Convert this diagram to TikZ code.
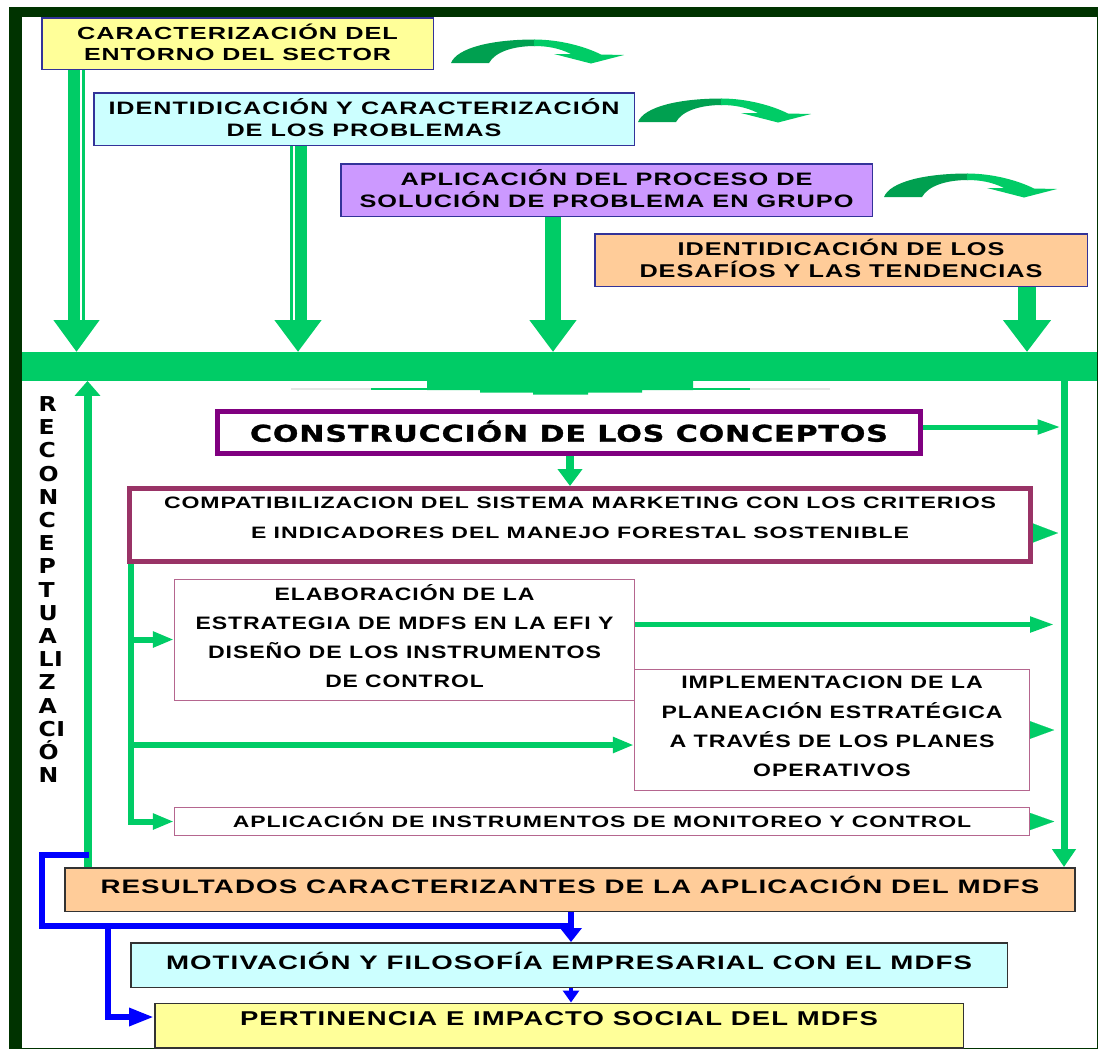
\documentclass[tikz,border=0pt]{standalone}
\usepackage{fontspec}
\usepackage{graphicx}
\usetikzlibrary{calc,arrows.meta}
\newfontfamily\fL{Liberation Sans}[LetterSpace=4]
\newfontfamily\fH{DejaVu Sans}[LetterSpace=2]
\newfontfamily\fHB{DejaVu Sans}[LetterSpace=3,FakeBold=1.2]
\newsavebox\fitbox
\newlength\fitlen
\newcommand\fitto[2]{\sbox\fitbox{#2}\setlength\fitlen{\wd\fitbox}\pgfmathsetmacro\fitratio{#1/\fitlen}\scalebox{\fitratio}[1]{\usebox\fitbox}}
\newcommand\capstrut{\rule[-3pt]{0pt}{\dimexpr\fontcharht\font`H+3pt\relax}}
\newcommand\lline[2]{\capstrut\fitto{#1}{#2}}
\newcommand\dn[1]{\rule[-#1pt]{0pt}{0.1pt}}
\definecolor{frameg}{HTML}{003300}
\definecolor{gr}{HTML}{00CC66}
\definecolor{dgr}{HTML}{00A050}
\definecolor{yel}{HTML}{FFFF99}
\definecolor{cya}{HTML}{CCFFFF}
\definecolor{lil}{HTML}{CC99FF}
\definecolor{ora}{HTML}{FFCC99}
\definecolor{bblue}{HTML}{333399}
\definecolor{purp}{HTML}{800080}
\definecolor{maro}{HTML}{993366}
\definecolor{pinkb}{HTML}{B5668F}
\definecolor{bl}{HTML}{0000FF}
\tikzset{
  box/.style={draw, inner sep=0pt, align=center},
  topbox/.style={box, draw=bblue, line width=1.5pt},
  botbox/.style={box, draw=black!80, line width=1.5pt},
  thinbox/.style={box, draw=pinkb, line width=1.3pt, fill=white},
  curvarrow/.pic={
    \fill[dgr] (0,23) .. controls (6,8) and (40,-0.5) .. (84,-0.5) -- (84,6) .. controls (62,6) and (44,12) .. (38,23) -- cycle;
    \fill[gr] (83,-0.5) .. controls (110,-0.5) and (135,7) .. (150,14.5) -- (173,15) -- (140,23.5) -- (103,14) -- (120,14) .. controls (108,8) and (96,6) .. (83,6) -- cycle;
  }
}
\begin{document}
\begin{tikzpicture}[x=1pt,y=-1pt]
\useasboundingbox (0,0) rectangle (1099,1050);
\fill[white] (0,0) rectangle (1099,1050);
% frame
\fill[frameg] (9,7) rectangle (1098,1049);
\fill[white] (21.5,17) rectangle (1096.5,1047.5);

% top boxes
\node[topbox, fill=yel, minimum width=391.5pt, minimum height=51.5pt, font=\fL\bfseries\fontsize{17.5}{21.5}\selectfont] (b1) at (237.5,43.5)
  {\lline{321}{CARACTERIZACIÓN DEL}\\\lline{307}{ENTORNO DEL SECTOR}};
\node[topbox, fill=cya, minimum width=540.5pt, minimum height=52.5pt, font=\fL\bfseries\fontsize{18}{21.6}\selectfont] (b2) at (364,119)
  {\lline{511}{IDENTIDICACIÓN Y CARACTERIZACIÓN}\\\lline{275}{DE LOS PROBLEMAS}};
\node[topbox, fill=lil, minimum width=531.5pt, minimum height=52.5pt, font=\fL\bfseries\fontsize{18}{21.2}\selectfont] (b3) at (606.5,190)
  {\lline{412}{APLICACIÓN DEL PROCESO DE}\\\lline{494}{SOLUCIÓN DE PROBLEMA EN GRUPO}};
\node[topbox, fill=ora, minimum width=492.5pt, minimum height=52.5pt, font=\fL\bfseries\fontsize{18.5}{22}\selectfont] (b4) at (841,260)
  {\lline{327}{IDENTIDICACIÓN DE LOS}\\\lline{403}{DESAFÍOS Y LAS TENDENCIAS}};

% curved arrows
\pic at (451,40) {curvarrow};
\pic at (638,99) {curvarrow};
\pic at (884,174) {curvarrow};

% main bar
\node[fill=gr, inner sep=0pt, minimum width=1075.5pt, minimum height=28.5pt, anchor=north west] (bar) at (21.5,352) {};
\draw[black!10, line width=1.5pt] (291,389) -- (830,389);
\draw[gr, line width=1.5pt] (371,389) -- (750,389);
\fill[gr] (427,378) -- (427,390) -- (480,390) -- (480,392.7) -- (533,392.7) -- (533,394.5) -- (588,394.5) -- (588,392.7) -- (642,392.7) -- (642,390) -- (693,390) -- (693,378) -- cycle;

% down arrows into bar
\draw[gr, line width=17pt, -{Triangle[length=32pt,width=44pt]}] (76.5,0 |- b1.south) -- (76.5,0 |- bar.north);
\draw[white, line width=2pt] (80.5,0 |- b1.south) -- (80.5,320);
\draw[gr, line width=17pt, -{Triangle[length=32pt,width=45pt]}] (298,0 |- b2.south) -- (298,0 |- bar.north);
\draw[white, line width=2pt] (294,0 |- b2.south) -- (294,320);
\draw[gr, line width=16pt, -{Triangle[length=32pt,width=45pt]}] (553,0 |- b3.south) -- (553,0 |- bar.north);
\draw[gr, line width=18pt, -{Triangle[length=32pt,width=46pt]}] (1027,0 |- b4.south) -- (1027,0 |- bar.north);

% reconceptualizacion
\foreach \l [count=\i] in {R,E,C,O,N,C,E,P,T,U,A,LI,Z,A,CI,Ó,N}
  \node[anchor=base west, inner sep=0pt, font=\fH\bfseries\fontsize{20.5}{20}\selectfont] (rc\i) at (38.5,{411.5+23.2*(\i-1)}) {\scalebox{1.15}[1]{\l}};

% middle boxes
\node[box, draw=purp, line width=5pt, fill=white, minimum width=703pt, minimum height=42pt, font=\fHB\bfseries\fontsize{23}{26}\selectfont] (constr) at (569,432.5)
  {\lline{638}{CONSTRUCCIÓN DE LOS CONCEPTOS}};
\node[box, draw=maro, line width=5pt, fill=white, minimum width=901pt, minimum height=73pt, font=\fL\bfseries\fontsize{16.5}{30}\selectfont] (compat) at (580,525)
  {\lline{832}{COMPATIBILIZACION DEL SISTEMA MARKETING CON LOS CRITERIOS}\\\lline{658}{E INDICADORES DEL MANEJO FORESTAL SOSTENIBLE}\dn{15}};
\node[thinbox, minimum width=460pt, minimum height=121pt, font=\fL\bfseries\fontsize{18}{29}\selectfont] (elab) at (404.5,640)
  {\lline{260}{ELABORACIÓN DE LA}\\\lline{418}{ESTRATEGIA DE MDFS EN LA EFI Y}\\\lline{393}{DISEÑO DE LOS INSTRUMENTOS}\\\lline{158.5}{DE CONTROL}\dn{8}};
\node[thinbox, minimum width=395pt, minimum height=121pt, font=\fL\bfseries\fontsize{18}{29.3}\selectfont] (impl) at (832,730)
  {\lline{301.5}{IMPLEMENTACION DE LA}\\\lline{341}{PLANEACIÓN ESTRATÉGICA}\\\lline{325}{A TRAVÉS DE LOS PLANES}\\\lline{157.6}{OPERATIVOS}\dn{7}};
\node[thinbox, minimum width=855pt, minimum height=28pt, font=\fL\bfseries\fontsize{16.5}{18}\selectfont] (aplic) at (602,821.5)
  {\lline{738.5}{APLICACIÓN DE INSTRUMENTOS DE MONITOREO Y CONTROL}};

% bottom boxes
\node[botbox, fill=ora, minimum width=1010pt, minimum height=43.5pt, font=\fL\bfseries\fontsize{19.5}{22}\selectfont] (result) at (570,889.5)
  {\lline{939}{RESULTADOS CARACTERIZANTES DE LA APLICACIÓN DEL MDFS}\dn{10}};
\node[botbox, fill=cya, minimum width=876.5pt, minimum height=44.5pt, font=\fL\bfseries\fontsize{19.5}{22}\selectfont] (motiv) at (569,965)
  {\lline{806}{MOTIVACIÓN Y FILOSOFÍA EMPRESARIAL CON EL MDFS}\dn{9}};
\node[botbox, fill=yel, minimum width=808.5pt, minimum height=44.5pt, font=\fL\bfseries\fontsize{20}{22}\selectfont] (pert) at (559,1025.5)
  {\lline{638}{PERTINENCIA E IMPACTO SOCIAL DEL MDFS}\dn{14}};

% right vertical line and feeds
\coordinate (rline) at (1060.5,0);
\coordinate (rtip) at (1054,0);
\draw[gr, line width=7pt, -{Triangle[length=18pt,width=23pt]}] (1064,0 |- bar.south) -- (1064,0 |- result.north);
\draw[gr, line width=5pt, -{Triangle[length=23pt,width=14pt]}] ($(constr.east)+(0,-5.5)$) -- ($(constr.east -| rline)+(0,-5.5)$);
\draw[gr, line width=0.1pt, -{Triangle[length=25pt,width=19pt]}] ($(compat.east)+(0,8)$) -- ++(25,0);
\draw[gr, line width=5pt, -{Triangle[length=24pt,width=15pt]}] ($(elab.east)+(0,-15.5)$) -- ($(elab.east -| rtip)+(0,-15.5)$);
\draw[gr, line width=0.1pt, -{Triangle[length=24pt,width=17.5pt]}] (impl.east) -- ++(24,0);
\draw[gr, line width=0.1pt, -{Triangle[length=24pt,width=17pt]}] (aplic.east) -- ++(24,0);

% construccion -> compat
\draw[gr, line width=8.5pt, -{Triangle[length=17pt,width=24pt]}] (570,0 |- constr.south) -- (570,0 |- compat.north);

% internal left distribution line
\draw[gr, line width=6pt] (131,0 |- compat.south) -- (131,824.5);
\draw[gr, line width=6pt, -{Triangle[length=21pt,width=15pt]}] ($(elab.west)+(-43.5,-0.5)$) -- ($(elab.west)+(0,-0.5)$);
\draw[gr, line width=6pt, -{Triangle[length=21pt,width=15pt]}] (128,0 |- impl.west) ++(0,15) -- ($(impl.west)+(0,15)$);
\draw[gr, line width=6pt, -{Triangle[length=21pt,width=15pt]}] (128,0 |- aplic.west) -- (aplic.west);

% reconceptualizacion up arrow
\draw[gr, line width=8pt, -{Triangle[length=15pt,width=25pt]}] (87.5,0 |- result.north) -- (87.5,0 |- bar.south);

% blue feedback
\draw[bl, line width=6pt, line join=miter] (89,854.5) -- (41.5,854.5) -- (41.5,925.5) -- (574,925.5);
\draw[bl, line width=6pt, -{Triangle[length=14pt,width=21pt]}] (571,0 |- result.south) -- (571,0 |- motiv.north);
\draw[bl, line width=6pt, line join=miter, -{Triangle[length=25pt,width=17pt]}] (107.5,925.5) -- (107.5,1017) -- ($(pert.west)+(0,-8.5)$);
\draw[bl, line width=4pt, -{Triangle[length=12pt,width=16pt]}] (571,0 |- motiv.south) -- (571,0 |- pert.north);
\end{tikzpicture}
\end{document}
